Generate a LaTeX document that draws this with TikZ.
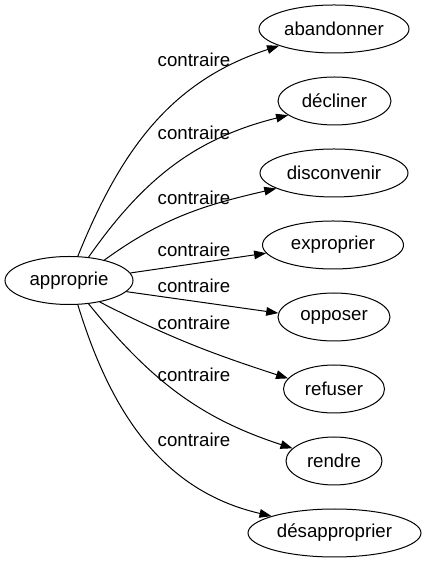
\documentclass[tikz,border=0pt]{standalone}
\usepackage{fontspec}
\setmainfont{Liberation Sans}
\usetikzlibrary{shapes.geometric,arrows.meta}
\tikzset{
>={Triangle[length=9pt,width=6.5pt]},
}
\begin{document}
\begin{tikzpicture}[x=0.75pt,y=0.75pt]
    \tikzset{
        mynode/.style={ellipse, draw=black, line width=0.75pt, inner sep=0pt, minimum height=36pt, font=\fontsize{14pt}{16pt}\selectfont},
        mylabel/.style={anchor=base, inner sep=0pt, font=\fontsize{14pt}{16pt}\selectfont},
        myarrow/.style={draw, line width=0.75pt, ->},
    }
    \useasboundingbox (0,0) rectangle (426,563);

    \node[mynode, minimum width=96pt] (root) at (69,282.5) {approprie};
    \node[mynode, minimum width=112.5pt] (item1) at (334,534) {abandonner};
    \node[mynode, minimum width=84.75pt] (item2) at (334.5,462) {décliner};
    \node[mynode, minimum width=111pt] (item3) at (334,390) {disconvenir};
    \node[mynode, minimum width=105.75pt] (item4) at (333,318) {exproprier};
    \node[mynode, minimum width=84pt] (item5) at (334,246) {opposer};
    \node[mynode, minimum width=75.75pt] (item6) at (334,174) {refuser};
    \node[mynode, minimum width=72pt] (item7) at (334,102) {rendre};
    \node[mynode, minimum width=129.75pt] (item8) at (334.5,30) {désapproprier};

    \node[mylabel] (lab1) at (194,496.5) {contraire};
    \node[mylabel] (lab2) at (194,423) {contraire};
    \node[mylabel] (lab3) at (194,358) {contraire};
    \node[mylabel] (lab4) at (194,306.3) {contraire};
    \node[mylabel] (lab5) at (194,270.3) {contraire};
    \node[mylabel] (lab6) at (194,233) {contraire};
    \node[mylabel] (lab7) at (194,181.3) {contraire};
    \node[mylabel] (lab8) at (194,116.3) {contraire};

    \draw[myarrow] (root.70) to[out=68,in=198] (item1.197);
    \draw[myarrow] (root.50) to[out=55,in=194] (item2.197);
    \draw[myarrow] (root.30) to[out=36,in=193] (item3.195);
    \draw[myarrow] (root.7) -- (item4.187);
    \draw[myarrow] (root.-11) -- (item5.176);
    \draw[myarrow] (root.-35) to[out=-27,in=162] (item6.167);
    \draw[myarrow] (root.-50) to[out=-51,in=162] (item7.163);
    \draw[myarrow] (root.-70) to[out=-73,in=167] (item8.165);

\end{tikzpicture}
\end{document}
